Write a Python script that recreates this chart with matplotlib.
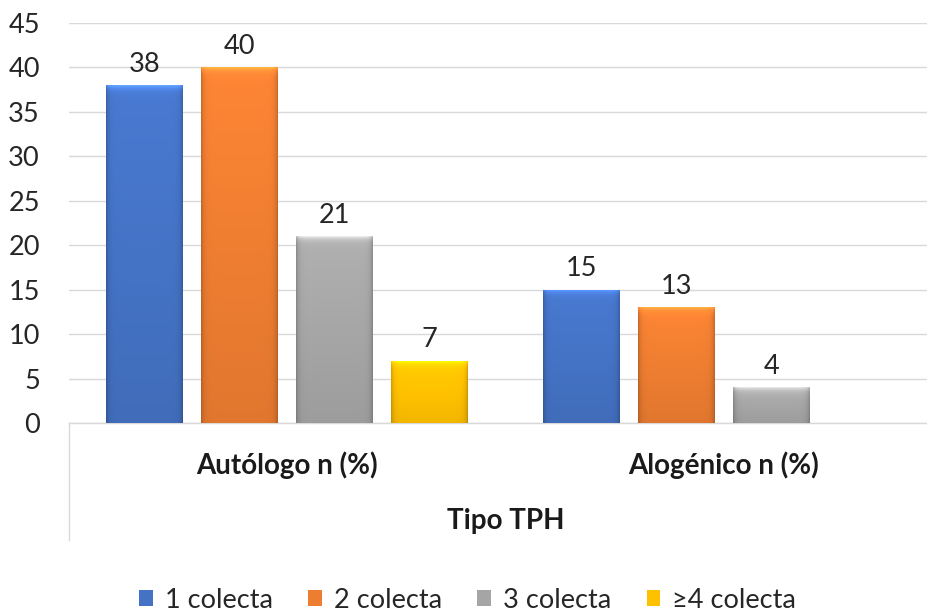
import numpy as np
import matplotlib
matplotlib.use("Agg")
import matplotlib.pyplot as plt
from matplotlib.patches import Patch
from matplotlib.colors import to_rgb
import matplotlib.transforms as mtransforms

plt.rcParams['font.family'] = ['Lato', 'DejaVu Sans']

categories = ["Autólogo n (%)", "Alogénico n (%)"]
series = ["1 colecta", "2 colecta", "3 colecta", "≥4 colecta"]
values_1 = [38, 15]
values_2 = [40, 13]
values_3 = [21, 4]
values_4 = [7, None]
axis_title = "Tipo TPH"
y_ticks = [0, 5, 10, 15, 20, 25, 30, 35, 40, 45]

colors = ["#4472C4", "#ED7D31", "#A5A5A5", "#FFC000"]
all_values = [values_1, values_2, values_3, values_4]

W, H = 928, 616
fig = plt.figure(figsize=(W / 100, H / 100), dpi=100)
ax = fig.add_axes([69 / W, (H - 423) / H, (942 - 69) / W, 400 / H])

x = np.arange(len(categories))
bar_w = 0.176
step = 0.2174
offsets = (np.arange(len(series)) - 1.5) * step


def shade_bar(ax, patch, color):
    # bevel-like shading: darker sides, bright top rim
    x0, y0 = patch.get_x(), patch.get_y()
    w, h = patch.get_width(), patch.get_height()
    if h <= 0:
        return
    nx, ny = 80, 200
    xs = np.linspace(0, 1, nx)
    ys = np.linspace(0, 1, ny)  # 0 = top
    bw_px = 77.0
    bh_px = h * 400 / 45
    dx = np.minimum(xs, 1 - xs) * bw_px
    dy_top = ys * bh_px
    side = 1 - 0.2 * np.exp(-dx / 2.5)
    top = 1 + 0.35 * np.exp(-dy_top / 3.0)
    vert = 1.07 - 0.12 * ys
    f = side[None, :] * top[:, None] * vert[:, None]
    base = np.array(to_rgb(color))
    img = np.clip(base[None, None, :] * f[:, :, None], 0, 1)
    im = ax.imshow(img, extent=(x0, x0 + w, y0, y0 + h), origin="upper",
                   aspect="auto", interpolation="bilinear", zorder=3)
    im.set_clip_path(patch)


for i, (name, vals, col) in enumerate(zip(series, all_values, colors)):
    xs_i = [xx + offsets[i] for xx, v in zip(x, vals) if v is not None]
    vs_i = [v for v in vals if v is not None]
    bars = ax.bar(xs_i, vs_i, width=bar_w, color=col, zorder=2,
                  edgecolor="none", label=name)
    for b, v in zip(bars, vs_i):
        shade_bar(ax, b, col)
        ax.annotate(str(v), (b.get_x() + b.get_width() / 2, v),
                    xytext=(0, 6), textcoords="offset points",
                    ha="center", va="bottom", fontsize=19.5, color="#262626",
                    zorder=5)

ax.set_xlim(-0.5, 1.5)
ax.set_ylim(0, 45)
ax.set_yticks(y_ticks)
ax.tick_params(axis="y", length=0, labelsize=19.5, labelcolor="#262626", pad=21)
ax.set_xticks([])
ax.grid(axis="y", color="#D9D9D9", linewidth=1.0, zorder=0)
ax.set_axisbelow(True)
for s in ["top", "right", "left"]:
    ax.spines[s].set_visible(False)
ax.spines["bottom"].set_color("#D9D9D9")
ax.spines["bottom"].set_linewidth(1.0)

# multi-level category labels
tr = mtransforms.blended_transform_factory(ax.transData, fig.transFigure)
for xx, cat in zip(x, categories):
    ax.text(xx, 1 - 465 / H, cat, transform=tr, ha="center", va="center",
            fontsize=20, fontweight="bold", color="#1a1a1a")
ax.text(0.5, 1 - 521 / H, axis_title, transform=tr, ha="center", va="center",
        fontsize=20, fontweight="bold", color="#1a1a1a")
fig.add_artist(plt.Line2D([69 / W, 69 / W], [1 - 423 / H, 1 - 540 / H],
                          color="#D9D9D9", linewidth=1.0))

handles = [Patch(facecolor=c, edgecolor="none") for c in colors]
fig.legend(handles, series, loc="center", bbox_to_anchor=(0.504, 1 - 600 / H),
           ncol=4, frameon=False, fontsize=19.5, handlelength=0.5,
           handleheight=0.5, handletextpad=0.45, columnspacing=1.3,
           labelcolor="#262626")

fig.savefig("out.png", dpi=100)
